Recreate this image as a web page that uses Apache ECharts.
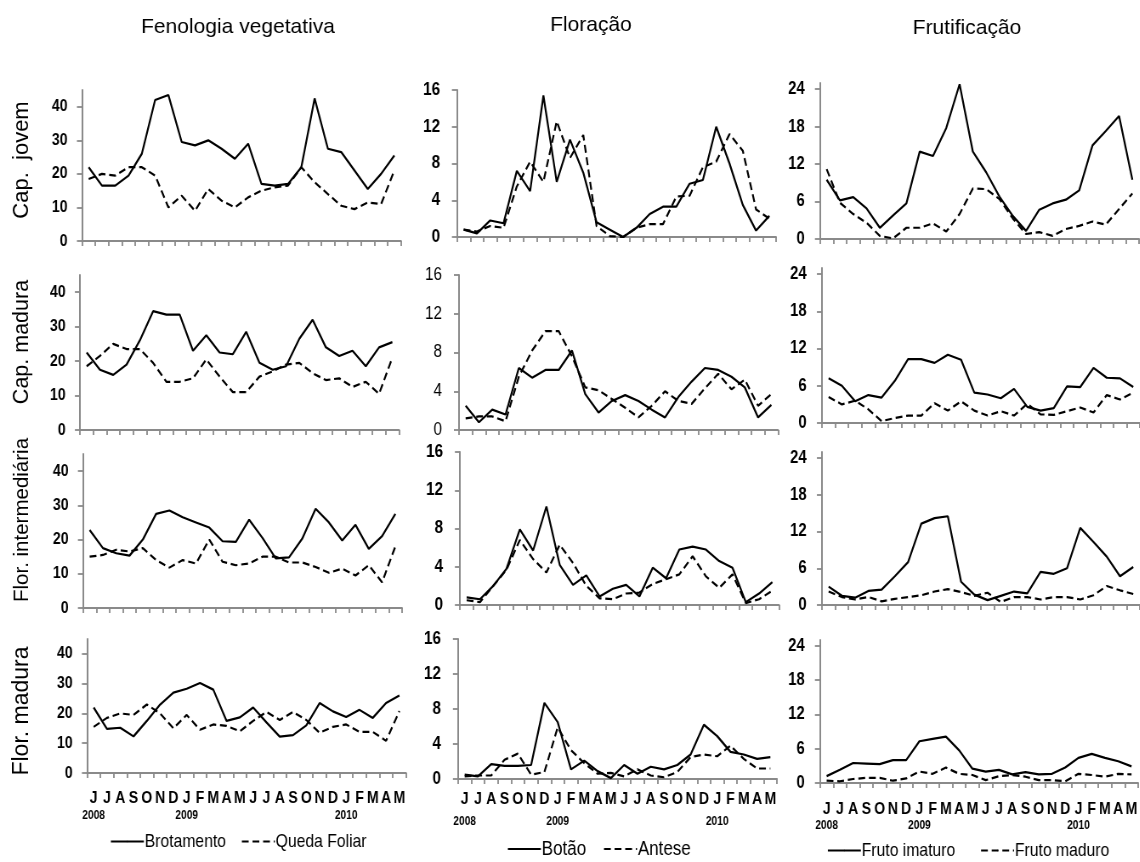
<!DOCTYPE html>
<html>
<head>
<meta charset="utf-8">
<script src="https://cdn.jsdelivr.net/npm/echarts@6/dist/echarts.min.js"></script>
<style>
  html, body { margin: 0; padding: 0; background: #ffffff; overflow: hidden; }
  #frame { width: 1140px; height: 862px; overflow: hidden; position: relative; }
  #chart { height: 862px; transform-origin: 0 0; position: absolute; left: 0; top: 0; }
</style>
</head>
<body>
<div id="frame"><div id="chart"></div></div>
<script>
// Month categories, June 2008 – May 2010
const months = ['J','J','A','S','O','N','D','J','F','M','A','M','J','J','A','S','O','N','D','J','F','M','A','M'];
const yearTags = ['2008','','','','','','','2009','','','','','','','','','','','','2010','','','',''];

const colTitles = ['Fenologia vegetativa', 'Floração', 'Frutificação'];
const rowNames = ['Cap.  jovem', 'Cap. madura', 'Flor. intermediária', 'Flor. madura'];
const seriesNames = [['Brotamento', 'Queda Foliar'], ['Botão', 'Antese'], ['Fruto imaturo', 'Fruto maduro']];
const yTickValues = [[0, 10, 20, 30, 40], [0, 4, 8, 12, 16], [0, 6, 12, 18, 24]];
const yMax = [45, 16, 25];

// Fenologia vegetativa
const brotCapJovem = [22,16.5,16.5,19.5,26,42,43.5,29.5,28.5,30,27.5,24.5,29,17,16.5,17,22,42.5,27.5,26.5,21,15.5,20,25.5];
const quedaCapJovem = [18.5,20,19.5,22,22,19.5,10,13.5,9,15.5,12,10,13,15,16,16.5,22,17.5,14,10.5,9.5,11.5,11,21];
const brotCapMadura = [22.5,17.5,16,19,26,34.5,33.5,33.5,23,27.5,22.5,22,28.5,19.5,17.5,18.5,26.5,32,24,21.5,23,18.5,24,25.5];
const quedaCapMadura = [18.5,21.5,25,23.5,23.5,19.5,14,14,15,20.5,15.5,11,11,15.5,17,19,19.5,16.5,14.5,15,12.5,14,10.5,21];
const brotFlorInter = [22.8,17.5,16,15.3,20,27.5,28.5,26.5,25,23.5,19.5,19.3,25.8,20.5,14.5,14.8,20.3,29,25,19.7,24.3,17.3,21,27.5];
const quedaFlorInter = [15,15.5,17,16.5,17.5,14,11.8,14,13,20,13.5,12.5,13,15,15,13.3,13.3,12,10.3,11.5,9.5,12.5,7.5,18];
const brotFlorMadura = [22,14.8,15.2,12.3,17.5,23,27,28.3,30.2,28,17.5,18.7,22,17,12.2,12.7,16,23.5,20.7,18.8,21.2,18.5,23.5,26];
const quedaFlorMadura = [15.5,18.5,20,19.5,23,20,15,19.5,14.5,16.3,15.8,14,17.5,20.5,17.8,20.5,17.8,13.5,15.5,16.3,13.8,13.8,10.8,20.8];

// Floração
const botaoCapJovem = [0.8,0.4,1.8,1.5,7.2,5,15.4,6,10.6,7,1.6,0.8,0,1,2.5,3.3,3.3,5.8,6.2,12,8,3.5,0.7,2.3];
const anteseCapJovem = [0.8,0.6,1.2,1,5.5,8.2,6,12.6,8.6,11.1,1.2,0.1,0,1,1.4,1.4,4.4,4.5,7.6,8.2,11.2,9.4,3,2];
const botaoCapMadura = [2.5,0.8,2.1,1.6,6.4,5.4,6.2,6.2,8.2,3.7,1.8,3,3.6,3,2.1,1.3,3.4,5,6.4,6.2,5.5,4.4,1.3,2.6];
const anteseCapMadura = [1.2,1.4,1.4,0.9,5.5,8.2,10.2,10.2,7.6,4.4,4.1,3.2,2.3,1.3,2.5,4,3,2.7,4.3,5.8,4.2,5.2,2.5,3.7];
const botaoFlorInter = [0.8,0.6,2,3.8,7.9,5.7,10.3,4.2,2.1,3.1,0.9,1.7,2.1,0.9,3.9,2.8,5.8,6.1,5.8,4.6,3.9,0.3,1.2,2.4];
const anteseFlorInter = [0.5,0.3,2,3.7,6.8,4.8,3.4,6.3,4.4,2,0.7,0.6,1.2,1.3,2.2,2.7,3.2,5.1,3,1.8,3.2,0.2,0.6,1.5];
const botaoFlorMadura = [0.5,0.3,1.7,1.5,1.5,1.6,8.7,6.5,1.1,2.1,0.9,0.1,1.6,0.6,1.4,1.1,1.6,2.8,6.2,4.9,3.1,2.8,2.3,2.5];
const anteseFlorMadura = [0.3,0.4,0.4,2.2,2.9,0.5,0.8,5.9,3.3,1.8,0.6,0.7,0.3,1.1,0.4,0.2,0.8,2.5,2.8,2.6,3.8,2.3,1.2,1.2];

// Frutificação
const imaturoCapJovem = [9.5,6.2,6.7,4.9,1.8,3.8,5.7,14,13.3,17.8,24.8,14,10.7,6.8,3.7,1.3,4.7,5.7,6.3,7.8,15,17.3,19.7,9.5];
const maduroCapJovem = [11.2,5.8,4,2.6,0.5,0.1,1.8,1.8,2.5,1.2,4,8.1,8,6.4,3.3,0.8,1.1,0.5,1.6,2.1,2.8,2.3,4.8,7.3];
const imaturoCapMadura = [7.2,6,3.5,4.5,4.1,6.8,10.3,10.3,9.7,11,10.2,4.9,4.6,4,5.5,2.6,2,2.4,5.9,5.8,8.9,7.3,7.2,5.8];
const maduroCapMadura = [4.2,3,3.6,2.2,0.3,0.8,1.2,1.2,3.2,2,3.5,2,1.2,1.9,1.2,3.1,1.4,1.3,1.9,2.5,1.7,4.5,3.8,4.9];
const imaturoFlorInter = [3,1.5,1.2,2.3,2.5,4.7,7,13.3,14.2,14.5,3.8,1.7,0.8,1.5,2.2,1.9,5.4,5.1,6,12.6,10.3,7.9,4.7,6.2];
const maduroFlorInter = [2.2,1.3,0.9,1.3,0.6,1,1.3,1.6,2.2,2.6,2.1,1.5,2,0.5,1.3,1.3,0.9,1.3,1.3,0.9,1.6,3.1,2.4,1.8];
const imaturoFlorMadura = [1.2,2.3,3.5,3.4,3.3,4,4,7.3,7.7,8.1,5.7,2.5,2,2.3,1.5,1.9,1.5,1.6,2.7,4.4,5.1,4.4,3.8,2.9];
const maduroFlorMadura = [0.4,0.3,0.7,0.9,0.9,0.4,0.8,2,1.6,2.7,1.6,1.4,0.5,1.2,1.4,1.1,0.5,0.5,0.3,1.6,1.4,1.1,1.6,1.5];

// panel data by [row][col] = [solid, dashed]
const panelData = [
  [[brotCapJovem, quedaCapJovem], [botaoCapJovem, anteseCapJovem], [imaturoCapJovem, maduroCapJovem]],
  [[brotCapMadura, quedaCapMadura], [botaoCapMadura, anteseCapMadura], [imaturoCapMadura, maduroCapMadura]],
  [[brotFlorInter, quedaFlorInter], [botaoFlorInter, anteseFlorInter], [imaturoFlorInter, maduroFlorInter]],
  [[brotFlorMadura, quedaFlorMadura], [botaoFlorMadura, anteseFlorMadura], [imaturoFlorMadura, maduroFlorMadura]]
];

// ---- layout ----
// The figure uses a condensed type face: the whole canvas is drawn wider and squeezed horizontally.
const S = 0.85;
const X = x => x / S;                  // page x -> canvas x
const chartEl = document.getElementById('chart');
chartEl.style.width = X(1140) + 'px';
chartEl.style.transform = 'scaleX(' + S + ')';

const FONT = "'Liberation Sans', Arial, Helvetica, sans-serif";
const gridLeft = [[82, 457, 820], [80, 459, 822], [83, 460, 822], [87, 458, 820]];
const gridTop = [[90, 90, 83], [275, 275, 268], [454, 452, 452], [639, 639, 640]];
const gridZero = [[241, 237, 239], [430, 430, 423], [608, 605, 605], [773, 779, 783]];
const gridWidth = 319;
const monthMargin = [16, 11, 17];
const yearLine = [18, 28, 16];
const yLabelSize = [16.5, 18, 17.5];
const yLabelMargin = [17, 20, 18];
const axisGray = '#8a8a8a';

const solidIcon = 'path://M0,0H33V2H0Z';
const dashIcon = 'path://M0,0H6V2H0Z M9,0H15V2H9Z M18,0H24V2H18Z M27,0H33V2H27Z';

const grids = [], xAxes = [], yAxes = [], series = [];
for (let r = 0; r < 4; r++) {
  for (let c = 0; c < 3; c++) {
    const k = r * 3 + c;
    grids.push({
      left: X(gridLeft[r][c]), top: gridTop[r][c],
      width: X(gridWidth), height: gridZero[r][c] - gridTop[r][c]
    });
    const bottomRow = r === 3;
    xAxes.push({
      type: 'category', gridIndex: k, data: months, boundaryGap: true,
      axisLine: { lineStyle: { color: axisGray, width: 2 } },
      axisTick: { show: true, length: 5, alignWithLabel: false, interval: 0, lineStyle: { color: axisGray, width: 1.8 } },
      splitLine: { show: false },
      axisLabel: bottomRow ? {
        interval: 0, margin: monthMargin[c],
        formatter: (v, i) => '{m|' + v + '}\n{y|' + (yearTags[i] || ' ') + '}',
        rich: {
          m: { fontFamily: FONT, fontWeight: 'bold', fontSize: 16.5, color: '#000', lineHeight: 18 },
          y: { fontFamily: FONT, fontWeight: 'bold', fontSize: 12, color: '#000', lineHeight: yearLine[c] }
        }
      } : { show: false }
    });
    yAxes.push({
      type: 'value', gridIndex: k, min: 0, max: yMax[c],
      axisLine: { show: true, lineStyle: { color: axisGray, width: 2 } },
      axisTick: { show: true, length: 6, customValues: yTickValues[c], lineStyle: { color: axisGray, width: 1.8 } },
      splitLine: { show: false },
      axisLabel: {
        customValues: yTickValues[c], margin: yLabelMargin[c],
        fontFamily: FONT, fontSize: yLabelSize[c],
        fontWeight: (r === 1 && c === 1) ? 'normal' : 'bold', color: '#000'
      }
    });
    const pair = panelData[r][c];
    for (let s = 0; s < 2; s++) {
      series.push({
        type: 'line', name: seriesNames[c][s], xAxisIndex: k, yAxisIndex: k,
        data: pair[s], symbol: 'none', silent: true, animation: false,
        legendIcon: s === 0 ? solidIcon : dashIcon,
        itemStyle: { color: '#000' },
        lineStyle: { color: '#000', width: 2.2, type: s === 0 ? 'solid' : [8, 4.5] }
      });
    }
  }
}

// legends under each column
const legendLeft = [110, 507, 827];
const legendTop = [832, 839, 841];
const legendGap = [15, 17, 25];
const legendFont = [18.5, 20, 18.5];
const legends = seriesNames.map((names, c) => ({
  data: names, left: X(legendLeft[c]), top: legendTop[c], orient: 'horizontal', padding: 0,
  itemWidth: X(33), itemHeight: 2, itemGap: X(legendGap[c]),
  selectedMode: false, inactiveColor: '#000',
  textStyle: { fontFamily: FONT, fontSize: legendFont[c], color: '#000', padding: [0, 0, 0, -4] }
}));

// column titles and row labels
const titleX = [238, 591, 967];
const titleY = [27, 25, 28];
const rowLabelY = [160, 342, 520, 711];
const rowLabelSize = [22, 21.5, 20.5, 23];
const graphics = [];
colTitles.forEach((t, c) => graphics.push({
  type: 'text', x: X(titleX[c]), y: titleY[c], scaleX: 1 / S, silent: true,
  style: { text: t, fontFamily: FONT, fontSize: 21, fill: '#000', align: 'center', verticalAlign: 'middle' }
}));
rowNames.forEach((t, r) => graphics.push({
  type: 'text', x: X(22), y: rowLabelY[r], rotation: Math.PI / 2, scaleY: 1 / S, silent: true,
  style: { text: t, fontFamily: FONT, fontSize: rowLabelSize[r], fill: '#000', align: 'center', verticalAlign: 'middle' }
}));

const chart = echarts.init(chartEl, null, { renderer: 'canvas' });
chart.setOption({
  backgroundColor: '#ffffff',
  animation: false,
  grid: grids,
  xAxis: xAxes,
  yAxis: yAxes,
  series: series,
  legend: legends,
  graphic: graphics
});
</script>
</body>
</html>
